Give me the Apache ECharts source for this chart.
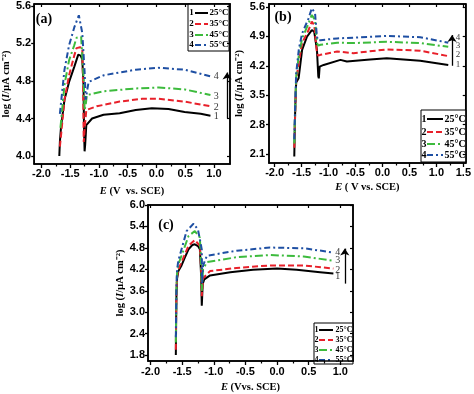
<!DOCTYPE html>
<html><head><meta charset="utf-8">
<script src="https://cdn.jsdelivr.net/npm/echarts@6/dist/echarts.min.js"></script>
<style>html,body{margin:0;padding:0;background:#fff}#c{width:474px;height:394px}</style>
</head><body><div id="c"></div>
<script>
// ---------- data ----------
const temps = ['25°C', '35°C', '45°C', '55°C'];
const curveNums = ['1', '2', '3', '4'];

// panel (a)
const a25 = [[-1.69,4.00],[-1.68,4.15],[-1.66,4.31],[-1.60,4.60],[-1.52,4.79],[-1.43,4.95],[-1.36,5.08],[-1.32,5.07],[-1.29,5.03],[-1.27,4.78],[-1.26,4.30],[-1.25,4.05],[-1.24,4.12],[-1.22,4.33],[-1.12,4.40],[-0.92,4.44],[-0.64,4.455],[-0.36,4.49],[-0.08,4.51],[0.21,4.50],[0.49,4.47],[0.77,4.45],[0.94,4.43]];
const a35 = [[-1.68,4.10],[-1.66,4.22],[-1.60,4.60],[-1.52,4.86],[-1.43,5.07],[-1.39,5.15],[-1.33,5.16],[-1.29,5.15],[-1.275,4.70],[-1.265,4.15],[-1.245,4.32],[-1.22,4.49],[-1.04,4.53],[-0.64,4.58],[-0.25,4.61],[0.04,4.61],[0.49,4.58],[0.94,4.53]];
const a45 = [[-1.67,4.30],[-1.60,4.76],[-1.52,5.02],[-1.43,5.18],[-1.39,5.26],[-1.31,5.27],[-1.28,5.25],[-1.265,4.80],[-1.25,4.49],[-1.23,4.55],[-1.21,4.65],[-0.92,4.69],[-0.36,4.72],[0.04,4.73],[0.49,4.71],[0.94,4.65]];
const a55 = [[-1.68,4.45],[-1.60,4.92],[-1.52,5.18],[-1.43,5.37],[-1.35,5.50],[-1.29,5.31],[-1.25,4.90],[-1.23,4.60],[-1.20,4.72],[-1.18,4.79],[-0.92,4.86],[-0.36,4.92],[0.04,4.94],[0.49,4.92],[0.94,4.85]];
const xTicksA = [-2.0,-1.5,-1.0,-0.5,0.0,0.5,1.0];
const yTicksA = [4.0,4.4,4.8,5.2,5.6];
const numXA = 1.04, numYA = [4.42,4.52,4.64,4.85];
const arrowA = [[1.23,4.40],[1.23,4.89]];

// panel (b)
const b25 = [[-1.635,2.04],[-1.625,2.8],[-1.61,3.5],[-1.60,3.80],[-1.555,3.90],[-1.49,4.58],[-1.40,4.89],[-1.31,5.05],[-1.265,5.01],[-1.215,4.58],[-1.19,3.95],[-1.18,3.90],[-1.165,4.18],[-1.09,4.22],[-0.78,4.34],[-0.66,4.30],[-0.23,4.35],[0.08,4.38],[0.70,4.32],[1.22,4.22]];
const b35 = [[-1.635,2.25],[-1.62,3.0],[-1.60,3.86],[-1.55,4.30],[-1.49,4.74],[-1.37,5.05],[-1.31,5.25],[-1.265,5.17],[-1.215,4.50],[-1.19,4.44],[-1.15,4.46],[-0.84,4.54],[-0.54,4.50],[0.08,4.59],[0.70,4.56],[1.22,4.43]];
const b45 = [[-1.635,2.35],[-1.62,3.1],[-1.60,3.94],[-1.55,4.45],[-1.49,4.85],[-1.37,5.21],[-1.31,5.41],[-1.25,5.29],[-1.215,4.74],[-1.19,4.68],[-1.15,4.70],[-0.84,4.75],[-0.54,4.74],[0.08,4.77],[0.70,4.74],[1.22,4.65]];
const b55 = [[-1.635,2.45],[-1.62,3.2],[-1.60,4.02],[-1.55,4.60],[-1.49,4.97],[-1.37,5.33],[-1.31,5.57],[-1.25,5.45],[-1.215,4.89],[-1.19,4.80],[-1.15,4.81],[-0.84,4.85],[-0.54,4.87],[0.08,4.91],[0.70,4.88],[1.22,4.75]];
const xTicksB = [-2.0,-1.5,-1.0,-0.5,0.0,0.5,1.0,1.5];
const yTicksB = [2.1,2.8,3.5,4.2,4.9,5.6];
const numXB = 1.40, numYB = [4.22,4.46,4.67,4.86];
const arrowB = [[1.29,4.20],[1.29,4.93]];

// panel (c)
const c25 = [[-1.60,1.80],[-1.595,2.8],[-1.59,3.5],[-1.58,3.95],[-1.56,4.15],[-1.51,4.31],[-1.46,4.52],[-1.40,4.76],[-1.34,4.88],[-1.30,4.90],[-1.25,4.85],[-1.22,4.76],[-1.20,4.0],[-1.19,3.18],[-1.175,3.80],[-1.15,3.92],[-1.06,4.03],[-0.74,4.12],[-0.38,4.19],[0.0,4.22],[0.31,4.19],[0.68,4.12],[0.89,4.08]];
const c35 = [[-1.60,1.95],[-1.595,3.0],[-1.59,3.6],[-1.58,4.0],[-1.56,4.2],[-1.51,4.40],[-1.40,4.86],[-1.30,5.02],[-1.22,4.86],[-1.20,4.2],[-1.19,3.45],[-1.17,3.95],[-1.06,4.15],[-0.64,4.24],[-0.11,4.31],[0.42,4.31],[0.89,4.22]];
const c45 = [[-1.60,2.15],[-1.595,3.0],[-1.59,3.7],[-1.58,4.1],[-1.56,4.35],[-1.51,4.58],[-1.40,5.13],[-1.30,5.27],[-1.22,5.09],[-1.20,4.3],[-1.19,3.6],[-1.17,4.2],[-1.11,4.40],[-0.64,4.54],[-0.11,4.60],[0.42,4.56],[0.89,4.44]];
const c55 = [[-1.60,2.30],[-1.595,3.1],[-1.59,3.8],[-1.58,4.2],[-1.56,4.45],[-1.51,4.76],[-1.43,5.27],[-1.32,5.48],[-1.25,5.31],[-1.19,4.76],[-1.185,3.8],[-1.17,4.3],[-1.11,4.58],[-0.64,4.72],[-0.11,4.81],[0.42,4.79],[0.89,4.67]];
const xTicksC = [-2.0,-1.5,-1.0,-0.5,0.0,0.5,1.0];
const yTicksC = [1.8,2.4,3.0,3.6,4.2,4.8,5.4,6.0];
const numXC = 0.96, numYC = [4.00,4.16,4.44,4.68];
const arrowC = [[1.07,3.80],[1.07,4.78]];

// ---------- styles ----------
const colors = ['#000000', '#e8202a', '#3dbb3d', '#1e4fa3'];
const dashes = ['solid', [6,3], [8,3,2,3], [6,3,2,3]];
const SERIF = '"Liberation Serif","Times New Roman",serif';
const SANS = '"Liberation Sans",Arial,sans-serif';

const panels = [
  {grid:{left:29, top:4, width:201, height:160}, xMin:-2.127, xMax:1.28, yMin:3.915, yMax:5.62,
   xt:xTicksA, yt:yTicksA, curves:[a25,a35,a45,a55], numX:numXA, numY:numYA, arrow:arrowA,
   xName:'{i|E} (V  vs. SCE)', xGap:22, yGap:16, xMargin:4, yMargin:3, numFs:10},
  {grid:{left:269, top:4, width:197, height:159}, xMin:-2.104, xMax:1.544, yMin:1.886, yMax:5.67,
   xt:xTicksB, yt:yTicksB, curves:[b25,b35,b45,b55], numX:numXB, numY:numYB, arrow:arrowB,
   xName:'{i|E} ( V vs. SCE)', xGap:19, yGap:24, xMargin:4, yMargin:4, numFs:9},
  {grid:{left:148, top:205, width:205, height:159}, xMin:-2.04, xMax:1.20, yMin:1.635, yMax:6.0,
   xt:xTicksC, yt:yTicksC, curves:[c25,c35,c45,c55], numX:numXC, numY:numYC, arrow:arrowC,
   xName:'{i|E} (Vvs. SCE)', xGap:21, yGap:18, xMargin:5, yMargin:3, numFs:10}
];

const nameStyle = {
  fontFamily: SERIF, fontSize: 10.5, fontWeight: 'bold', color: '#000',
  rich: { i: { fontFamily: SERIF, fontSize: 10.5, fontWeight: 'bold', fontStyle: 'italic', color: '#000' } }
};
const labelStyle = { fontFamily: SANS, fontWeight: 'bold', fontSize: 11, color: '#000' };
const lineCol = { color: '#000', width: 1.5 };

const grids = [], xAxes = [], yAxes = [], series = [];
panels.forEach((p, i) => {
  grids.push(Object.assign({ show: true, borderColor: '#000', borderWidth: 1.5, backgroundColor: 'transparent' }, p.grid));
  const minor = p.xt.slice(0, -1).map((v, k) => (v + p.xt[k + 1]) / 2);
  xAxes.push({
    type: 'value', gridIndex: i, min: p.xMin, max: p.xMax, position: 'bottom',
    axisLine: { show: true, onZero: false, lineStyle: lineCol },
    axisTick: { show: true, inside: false, length: 4, customValues: p.xt, lineStyle: { color: '#000', width: 1.3 } },
    axisLabel: Object.assign({ customValues: p.xt, formatter: v => v.toFixed(1), margin: p.xMargin }, labelStyle),
    splitLine: { show: false },
    name: p.xName, nameLocation: 'middle', nameGap: p.xGap, nameTextStyle: nameStyle
  });
  xAxes.push({
    type: 'value', gridIndex: i, min: p.xMin, max: p.xMax, position: 'bottom',
    axisLine: { show: false, onZero: false },
    axisTick: { show: true, inside: false, length: 2.5, customValues: minor, lineStyle: { color: '#000', width: 1.2 } },
    axisLabel: { show: false }, splitLine: { show: false }
  });
  xAxes.push({
    type: 'value', gridIndex: i, min: p.xMin, max: p.xMax, position: 'top',
    axisLine: { show: true, onZero: false, lineStyle: lineCol },
    axisTick: { show: true, inside: true, length: 3, customValues: p.xt, lineStyle: { color: '#000', width: 1.2 } },
    axisLabel: { show: false }, splitLine: { show: false }
  });
  yAxes.push({
    type: 'value', gridIndex: i, min: p.yMin, max: p.yMax, position: 'left',
    axisLine: { show: true, onZero: false, lineStyle: lineCol },
    axisTick: { show: true, inside: false, length: 3, customValues: p.yt, lineStyle: { color: '#000', width: 1.3 } },
    axisLabel: Object.assign({ customValues: p.yt, formatter: v => v.toFixed(1), margin: p.yMargin }, labelStyle),
    splitLine: { show: false },
    name: 'log ({i|I}/µA cm⁻²)', nameLocation: 'middle', nameGap: p.yGap, nameRotate: 90, nameTextStyle: nameStyle
  });
  yAxes.push({
    type: 'value', gridIndex: i, min: p.yMin, max: p.yMax, position: 'right',
    axisLine: { show: true, onZero: false, lineStyle: lineCol },
    axisTick: { show: true, inside: true, length: 3, customValues: p.yt, lineStyle: { color: '#000', width: 1.2 } },
    axisLabel: { show: false }, splitLine: { show: false }
  });
  p.curves.forEach((d, k) => {
    series.push({
      type: 'line', name: temps[k], xAxisIndex: i * 3, yAxisIndex: i * 2, data: d,
      symbol: 'none', showSymbol: false, z: 2 + k,
      lineStyle: { color: colors[k], width: 2, type: dashes[k] }
    });
  });
  series.push({
    type: 'scatter', xAxisIndex: i * 3, yAxisIndex: i * 2, symbolSize: 1, z: 10,
    itemStyle: { color: 'rgba(0,0,0,0)' },
    data: p.numY.map((y, k) => ({ value: [p.numX, y], label: { formatter: curveNums[k] } })),
    label: { show: true, position: 'inside', color: '#000', fontFamily: SERIF, fontSize: p.numFs },
    markLine: {
      silent: true, symbol: ['none', 'arrow'], symbolSize: 7, animation: false,
      lineStyle: { color: '#000', width: 1.3, type: 'solid' }, label: { show: false },
      data: [[{ coord: p.arrow[0] }, { coord: p.arrow[1] }]]
    }
  });
});

// ---------- legends & panel labels (graphic) ----------
const legendDefs = [
  { x: 188, y: 4, w: 41, h: 47, rows: [13, 24, 35, 45], numX: 191.5, l1: 195, l2: 208, tx: 219, fs: 9 },
  { x: 421, y: 110, w: 45, h: 52, rows: [119, 132, 144, 155], numX: 424, l1: 427, l2: 443, tx: 455, fs: 10 },
  { x: 314, y: 323, w: 39, h: 41, rows: [330, 340, 350, 360], numX: 316.5, l1: 319, l2: 333, tx: 344, fs: 8 }
];
const graphics = [];
legendDefs.forEach(L => {
  const ch = [{ type: 'rect', shape: { x: L.x, y: L.y, width: L.w, height: L.h }, style: { fill: '#fff', stroke: '#000', lineWidth: 1 } }];
  L.rows.forEach((ry, k) => {
    ch.push({ type: 'text', style: { text: curveNums[k], x: L.numX, y: ry, font: 'bold ' + L.fs + 'px ' + SERIF, fill: '#000', align: 'center', verticalAlign: 'middle' } });
    ch.push({ type: 'line', shape: { x1: L.l1, y1: ry, x2: L.l2, y2: ry }, style: { stroke: colors[k], lineWidth: 2, lineDash: dashes[k] === 'solid' ? null : dashes[k] } });
    ch.push({ type: 'text', style: { text: temps[k], x: L.tx, y: ry, font: 'bold ' + L.fs + 'px ' + SERIF, fill: '#000', align: 'center', verticalAlign: 'middle' } });
  });
  graphics.push({ type: 'group', z: 100, children: ch });
});
const panelLabels = [['(a)', 44, 19], ['(b)', 283, 17], ['(c)', 166, 225]];
panelLabels.forEach(t => graphics.push({
  type: 'text', z: 100,
  style: { text: t[0], x: t[1], y: t[2], font: 'bold 14px ' + SERIF, fill: '#000', align: 'center', verticalAlign: 'middle' }
}));

const chart = echarts.init(document.getElementById('c'), null, { renderer: 'canvas' });
chart.setOption({
  animation: false,
  backgroundColor: '#fff',
  grid: grids, xAxis: xAxes, yAxis: yAxes, series: series, graphic: graphics
});
</script></body></html>
